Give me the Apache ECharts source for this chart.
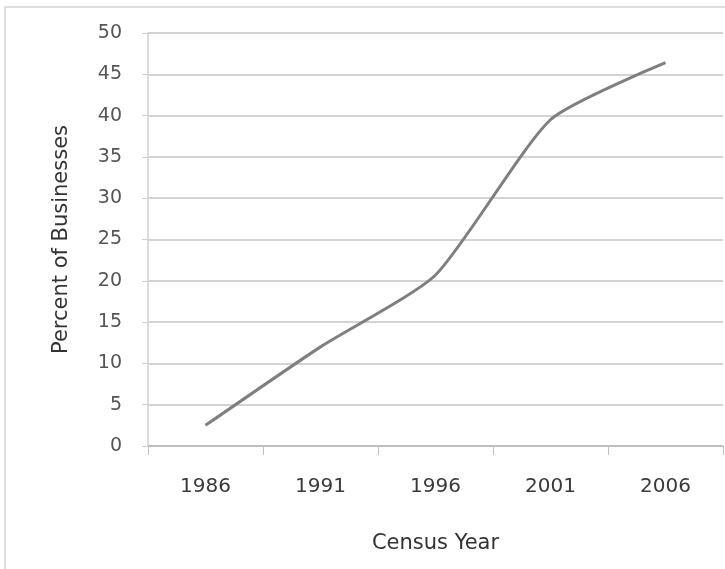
<!DOCTYPE html>
<html>
<head>
<meta charset="utf-8">
<script src="https://cdn.jsdelivr.net/npm/echarts@6/dist/echarts.min.js"></script>
<style>
  html, body { margin: 0; padding: 0; background: #fff; }
  #chart { width: 725px; height: 569px; }
</style>
</head>
<body>
<div id="chart"></div>
<script>
// Census years and share of businesses (percent)
const years = ['1986', '1991', '1996', '2001', '2006'];
const percentBusinesses = [2.5, 12, 20.7, 39.5, 46.4];
const yTicks = { min: 0, max: 50, step: 5 };

const chart = echarts.init(document.getElementById('chart'));
const font = 'DejaVu Sans, sans-serif';

chart.setOption({
  backgroundColor: '#ffffff',
  animation: false,
  graphic: [{
    type: 'rect',
    shape: { x: 5, y: 7, width: 740, height: 600 },
    style: { fill: 'none', stroke: '#d4d4d4', lineWidth: 1.5 }
  }],
  grid: { left: 148, right: 2, top: 33, bottom: 123 },
  xAxis: {
    type: 'category',
    data: years,
    boundaryGap: true,
    name: 'Census Year',
    nameLocation: 'middle',
    nameGap: 87,
    nameTextStyle: { fontFamily: font, fontSize: 21, color: '#333' },
    axisLine: { lineStyle: { color: '#b8b8b8', width: 1.5 } },
    axisTick: { show: true, length: 9, lineStyle: { color: '#c0c0c0' } },
    axisLabel: { fontFamily: font, fontSize: 20, color: '#3a3a3a', margin: 31 }
  },
  yAxis: {
    type: 'value',
    min: yTicks.min,
    max: yTicks.max,
    interval: yTicks.step,
    name: 'Percent of Businesses',
    nameLocation: 'middle',
    nameGap: 76,
    nameRotate: 90,
    nameTextStyle: { fontFamily: font, fontSize: 21, color: '#333' },
    axisLine: { show: true, lineStyle: { color: '#cfcfcf', width: 1.5 } },
    axisTick: { show: true, length: 6, lineStyle: { color: '#cfcfcf' } },
    axisLabel: { fontFamily: font, fontSize: 19, color: '#555', margin: 26 },
    splitLine: { lineStyle: { color: '#c4c4c4', width: 1.5 } }
  },
  series: [{
    type: 'line',
    data: percentBusinesses,
    smooth: 0.2,
    symbol: 'none',
    lineStyle: { color: '#7f7f7f', width: 3 }
  }]
});
</script>
</body>
</html>
